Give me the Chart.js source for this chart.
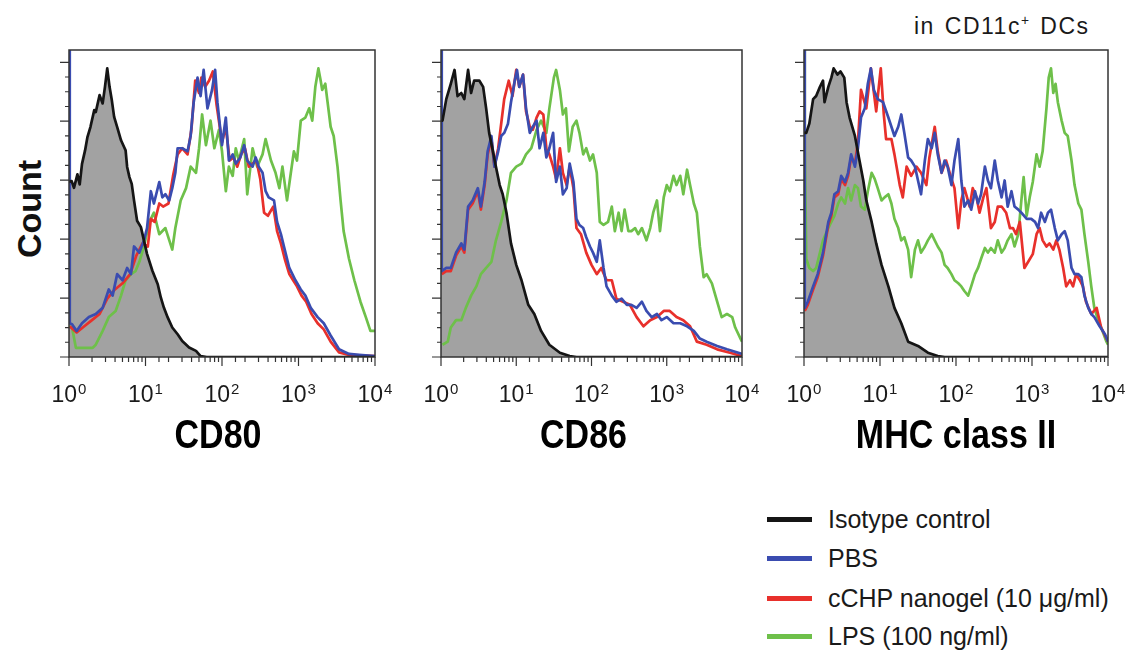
<!DOCTYPE html>
<html lang="en">
<head>
<meta charset="UTF-8">
<script src="https://cdn.jsdelivr.net/npm/chart.js"></script>
<title>CD80 / CD86 / MHC class II</title>
<style>
  body { margin: 0; width: 1126px; height: 650px; background: #fff; position: relative; overflow: hidden;
         font-family: 'Liberation Sans', Arial, sans-serif; color: #111; }
  .panel { position: absolute; top: 30px; }
  #tag { position: absolute; left: 914px; top: 13px; font-size: 23px; letter-spacing: 1.5px; word-spacing: 2px; white-space: nowrap; color: #1a1a1a; }
  #tag sup { font-size: 60%; }
  #count { position: absolute; left: 29px; top: 209px; transform: translate(-50%, -50%) rotate(-90deg);
           font-size: 34px; font-weight: bold; white-space: nowrap; }
  .row { position: absolute; left: 767px; height: 30px; line-height: 30px; font-size: 25px; white-space: nowrap; color: #1a1a1a; }
  .row span { display: inline-block; width: 45px; height: 5px; vertical-align: middle; margin-right: 16px; position: relative; top: -2px; }
</style>
</head>
<body>

<div id="tag">in CD11c<sup>+</sup> DCs</div>
<div id="count">Count</div>

<div class="panel" style="left:44px"><canvas id="c1" width="356" height="427"></canvas></div>
<div class="panel" style="left:416px"><canvas id="c2" width="351" height="427"></canvas></div>
<div class="panel" style="left:779px"><canvas id="c3" width="347" height="427"></canvas></div>

<div id="legend"></div>

<script>
// x values are log10 of the fluorescence channel (0 = 10^0 ... 4 = 10^4), y is % of max count
const cd80Iso = [[0,57],[0.035,57.3],[0.065,55.1],[0.11,59.5],[0.14,56.2],[0.17,62.9],[0.21,67.3],[0.24,71.5],[0.28,74.9],[0.33,80.4],[0.35,79.8],[0.38,83.1],[0.4,85.3],[0.44,82.6],[0.47,88],[0.5,94],[0.53,88],[0.56,83.6],[0.59,78.2],[0.63,74.9],[0.68,70.6],[0.72,68.4],[0.74,67.3],[0.76,61.9],[0.79,58.6],[0.82,56.4],[0.85,51],[0.89,44.4],[0.94,42.3],[0.98,37.9],[1.02,33.6],[1.09,28.1],[1.16,23.7],[1.2,19.4],[1.24,16.1],[1.29,12.9],[1.35,9.6],[1.42,7.4],[1.48,5.2],[1.57,3.1],[1.66,2],[1.72,0.3],[1.8,0],[4,0]];
const cd80Pbs = [[0,100],[0.01,11],[0.04,10.7],[0.1,8.5],[0.17,11],[0.26,13],[0.35,14],[0.44,16],[0.52,22],[0.57,20],[0.63,27],[0.7,25],[0.76,29],[0.81,27],[0.85,36],[0.92,34],[0.98,38],[1.02,42],[1.07,54],[1.11,50],[1.18,57],[1.22,52],[1.26,53],[1.31,51],[1.35,55],[1.39,60],[1.42,68],[1.48,68],[1.55,67],[1.59,72],[1.63,83],[1.68,91],[1.72,85],[1.76,93.5],[1.81,81],[1.87,87],[1.91,93.5],[1.94,83],[2.0,69],[2.05,78],[2.09,64],[2.14,66],[2.18,63],[2.24,65],[2.29,69],[2.33,64],[2.4,62],[2.44,65],[2.48,62],[2.53,60],[2.57,54],[2.61,52],[2.68,51],[2.72,44],[2.77,40],[2.81,36],[2.88,29],[2.92,27],[2.96,25],[3.03,22],[3.09,20],[3.16,16],[3.25,13],[3.33,11],[3.42,7],[3.53,2.5],[3.66,1],[3.79,0.7],[4,0.3]];
const cd80Chp = [[0.01,10],[0.1,8],[0.2,10],[0.3,12],[0.4,14],[0.5,19],[0.6,22],[0.7,24],[0.8,27],[0.88,33],[0.96,37],[1.03,36],[1.07,45],[1.12,44],[1.18,50],[1.23,49],[1.3,50],[1.36,59],[1.42,66],[1.48,68],[1.55,66],[1.6,74],[1.65,90],[1.7,86],[1.73,91],[1.78,88],[1.83,90],[1.88,93],[1.93,82],[2.0,70],[2.05,75],[2.1,64],[2.15,65],[2.2,62],[2.25,66],[2.3,68],[2.35,62],[2.4,63],[2.45,64],[2.5,58],[2.55,47],[2.6,46],[2.67,49],[2.72,41],[2.77,37],[2.82,32],[2.88,27],[2.93,25],[2.98,23],[3.04,20],[3.1,18],[3.17,14],[3.25,11],[3.33,9],[3.42,5],[3.53,1.5],[3.66,0.7],[3.8,0.5],[4,0.3]];
const cd80Lps = [[0,10],[0.04,9.6],[0.09,3],[0.2,3],[0.31,3],[0.35,4],[0.44,8.5],[0.52,13],[0.61,15],[0.68,20],[0.74,25],[0.81,27],[0.87,28],[0.92,31],[0.98,36],[1.05,44],[1.11,47],[1.18,40],[1.26,42],[1.35,35],[1.39,42],[1.46,51],[1.53,55],[1.59,62],[1.66,60],[1.7,68],[1.74,79],[1.79,69],[1.85,77],[1.9,68],[1.96,74],[2.0,67],[2.05,54],[2.09,62],[2.14,59],[2.18,68],[2.22,64],[2.29,71],[2.33,53],[2.4,68],[2.46,62],[2.53,66],[2.57,71],[2.64,64],[2.7,60],[2.75,55],[2.79,62],[2.85,51],[2.9,60],[2.94,67],[2.98,64],[3.03,77],[3.09,78],[3.14,81],[3.18,77],[3.22,88],[3.26,94],[3.29,90],[3.31,87],[3.35,89],[3.38,83],[3.42,75],[3.46,72],[3.51,62],[3.55,51],[3.59,41],[3.66,32],[3.73,25],[3.81,18],[3.88,13],[3.94,8.5],[4,8.5]];

const cd86Iso = [[0,77],[0.02,77],[0.07,84],[0.13,89],[0.18,93.5],[0.22,85],[0.27,86],[0.31,84],[0.36,93.5],[0.4,86],[0.44,90],[0.51,90],[0.56,88],[0.6,81],[0.64,73],[0.69,67],[0.73,62],[0.78,56],[0.82,53],[0.87,47],[0.93,37],[1.0,30],[1.07,25],[1.16,17],[1.24,14],[1.33,8.5],[1.44,4],[1.58,1.4],[1.71,0.3],[1.8,0],[4,0]];
const cd86Pbs = [[0,100],[0.01,28],[0.07,29],[0.13,29],[0.2,34],[0.27,37],[0.31,35],[0.36,49],[0.42,51],[0.49,55],[0.53,49],[0.58,57],[0.62,67],[0.67,72],[0.71,62],[0.76,67],[0.8,72],[0.84,73],[0.89,76],[0.93,83],[0.98,90],[1.01,93.5],[1.04,88],[1.09,92],[1.13,81],[1.18,73],[1.22,75],[1.27,77],[1.31,68],[1.36,73],[1.4,65],[1.44,68],[1.49,73],[1.53,57],[1.58,62],[1.62,53],[1.67,55],[1.71,63],[1.76,57],[1.8,45],[1.84,43],[1.89,42],[1.93,39],[1.98,36],[2.02,34],[2.07,31],[2.11,38],[2.16,29],[2.2,23],[2.27,20],[2.33,18],[2.4,19],[2.47,17],[2.53,17],[2.6,16],[2.67,18],[2.73,15],[2.8,13],[2.87,14],[2.93,12],[3.0,13],[3.09,11],[3.18,11],[3.27,10],[3.36,8.5],[3.44,6],[3.53,5],[3.67,3.6],[3.8,2.5],[4,1]];
const cd86Chp = [[0.01,27],[0.07,28],[0.13,28],[0.2,33],[0.27,36],[0.31,34],[0.36,48],[0.42,50],[0.49,54],[0.53,48],[0.58,56],[0.62,66],[0.67,71],[0.71,62],[0.76,68],[0.84,84],[0.9,90],[0.95,85],[1.0,93.5],[1.04,88],[1.09,92],[1.13,80],[1.18,75],[1.22,74],[1.27,78],[1.31,80],[1.36,79],[1.4,68],[1.44,66],[1.49,62],[1.53,58],[1.58,68],[1.62,60],[1.67,56],[1.71,62],[1.76,55],[1.8,42],[1.86,40],[1.93,34],[2.0,30],[2.07,27],[2.13,29],[2.2,25],[2.27,25],[2.33,19],[2.42,18],[2.51,17],[2.6,13],[2.69,10],[2.78,12],[2.87,13],[2.96,15],[3.04,15],[3.13,13],[3.22,12],[3.31,10],[3.4,5],[3.53,4],[3.67,2.5],[3.84,1.4],[4,0.3]];
const cd86Lps = [[0.02,4],[0.09,5],[0.13,9.6],[0.2,12],[0.27,12],[0.33,16],[0.4,20],[0.47,23],[0.53,27],[0.6,29],[0.67,31],[0.73,38],[0.8,44],[0.87,51],[0.93,60],[1.0,62],[1.07,63],[1.13,66],[1.2,68],[1.27,74],[1.33,77],[1.4,73],[1.44,81],[1.5,91],[1.53,93.5],[1.58,87],[1.62,79],[1.66,81],[1.7,67],[1.75,75],[1.8,77],[1.84,73],[1.89,66],[1.93,68],[1.98,64],[2.02,66],[2.07,60],[2.11,44],[2.16,43],[2.22,44],[2.27,49],[2.31,41],[2.36,47],[2.4,41],[2.44,48],[2.49,41],[2.53,41],[2.58,42],[2.62,40],[2.67,42],[2.73,38],[2.78,42],[2.82,47],[2.87,51],[2.91,41],[2.96,52],[3.0,56],[3.04,54],[3.09,59],[3.13,56],[3.18,59],[3.22,53],[3.27,61],[3.31,56],[3.36,50],[3.4,47],[3.44,36],[3.49,26],[3.53,27],[3.6,24],[3.67,18],[3.73,13],[3.8,14],[3.87,13],[3.91,9.6],[3.98,6],[4,5]];

const mhcIso = [[0,73],[0.03,73],[0.07,76],[0.12,84],[0.16,85],[0.21,88],[0.25,90],[0.27,83],[0.32,88],[0.36,91],[0.39,94],[0.44,92],[0.48,93],[0.53,91],[0.56,83],[0.6,78],[0.67,72],[0.73,64],[0.78,57.5],[0.82,51],[0.89,44],[0.95,37],[1.02,30],[1.11,23],[1.19,16],[1.28,11],[1.37,5],[1.5,3.6],[1.63,1.4],[1.76,0.3],[1.85,0],[4,0]];
const mhcPbs = [[0,100],[0.01,16],[0.05,18],[0.12,23],[0.18,27],[0.25,34],[0.32,44],[0.36,47],[0.4,53],[0.45,54],[0.49,59],[0.54,57],[0.58,60],[0.62,66],[0.67,62],[0.71,68],[0.75,78],[0.8,81],[0.84,89],[0.88,94],[0.92,87],[0.97,84],[1.04,83],[1.11,78],[1.15,75],[1.19,72],[1.24,75],[1.28,79],[1.32,73],[1.37,65],[1.41,64],[1.46,62],[1.5,57.5],[1.54,53],[1.59,64],[1.63,71],[1.68,68],[1.72,73],[1.76,66],[1.81,60],[1.85,64],[1.89,62],[1.94,56],[1.98,64],[2.03,71],[2.07,57.5],[2.11,49],[2.16,51],[2.2,48],[2.25,54],[2.29,50],[2.33,53],[2.38,62],[2.42,57.5],[2.46,55],[2.51,64],[2.55,57.5],[2.6,52],[2.64,57.5],[2.68,49],[2.73,54],[2.77,49],[2.82,48],[2.86,47],[2.93,45],[2.99,45],[3.04,44],[3.08,42],[3.12,47],[3.17,44],[3.21,47],[3.25,48],[3.3,42],[3.34,38],[3.39,40],[3.43,41],[3.47,38],[3.52,29],[3.56,27],[3.61,27],[3.65,26],[3.69,20],[3.74,16],[3.78,14],[3.82,13],[3.89,10],[3.96,7.4],[4,5]];
const mhcChp = [[0.01,15],[0.05,17],[0.12,22],[0.18,26],[0.25,33],[0.32,43],[0.36,46],[0.4,52],[0.45,53],[0.49,58],[0.54,56],[0.58,59],[0.62,65],[0.67,63],[0.71,70],[0.75,87],[0.82,81],[0.88,94],[0.95,80],[1.01,94],[1.05,79],[1.08,71],[1.15,71],[1.19,66],[1.26,56],[1.3,52],[1.35,62],[1.41,59],[1.48,62],[1.54,60],[1.61,56],[1.65,65],[1.72,75],[1.76,67],[1.81,60],[1.87,64],[1.94,58],[1.98,55],[2.03,42],[2.07,51],[2.11,55],[2.18,49],[2.22,55],[2.27,52],[2.31,47],[2.36,52],[2.4,55],[2.46,42],[2.51,44],[2.55,49],[2.6,49],[2.66,47],[2.71,42],[2.75,42],[2.79,40],[2.84,44],[2.9,29],[2.95,31],[3.01,33.5],[3.06,40],[3.1,42],[3.14,38],[3.19,36],[3.23,37],[3.28,35],[3.32,38],[3.36,35],[3.41,29],[3.45,23],[3.5,25],[3.54,23],[3.58,27],[3.63,25],[3.67,23],[3.71,18],[3.78,14],[3.85,16],[3.91,9.6],[4,5]];
const mhcLps = [[0,100],[0.01,70],[0.03,32],[0.07,29],[0.12,28],[0.16,29],[0.21,34],[0.25,38],[0.32,42],[0.36,44],[0.4,46],[0.45,50],[0.49,52],[0.54,50],[0.58,55],[0.62,51],[0.67,56],[0.71,55],[0.75,49],[0.8,48],[0.84,54],[0.89,60],[0.93,58],[0.97,55],[1.02,51],[1.06,52],[1.11,53],[1.15,50],[1.19,45],[1.24,42],[1.28,38],[1.32,39],[1.37,35],[1.41,26],[1.46,35],[1.5,38],[1.54,34],[1.59,36],[1.63,38],[1.68,40],[1.72,38],[1.76,36],[1.81,34],[1.85,30],[1.89,29],[1.94,27],[1.98,25],[2.03,24],[2.07,23],[2.11,21.5],[2.16,20],[2.2,23],[2.25,27],[2.29,29],[2.33,32],[2.38,35.5],[2.42,34],[2.46,35.5],[2.51,34],[2.55,38],[2.6,34],[2.64,35.5],[2.68,38],[2.73,40],[2.77,36],[2.82,40],[2.86,51],[2.89,58.6],[2.93,46],[2.97,52],[3.01,57],[3.06,66],[3.1,62],[3.14,67],[3.19,81],[3.22,91],[3.25,94],[3.28,86],[3.31,89],[3.34,83],[3.39,77],[3.43,73],[3.47,72],[3.52,64],[3.56,56],[3.61,50],[3.65,48],[3.69,40],[3.74,31],[3.78,23],[3.82,16],[3.87,12],[3.91,9.6],[3.98,5],[4,4]];

const panelTitles = ['CD80', 'CD86', 'MHC class II'];
const tickExponents = ['0', '1', '2', '3', '4'];
const seriesNames = ['Isotype control', 'PBS', 'cCHP nanogel (10 \u03bcg/ml)', 'LPS (100 ng/ml)'];

const colors = ['#151515', '#3a4cb0', '#e8302b', '#6ec04a'];
const isoFill = '#a2a2a2';
const yTickStep = 4.8;
const textFamily = "'Liberation Sans', Arial, sans-serif";

function toXY(arr) {
    return arr.map(function (p) { return { x: Math.pow(10, p[0]), y: p[1] }; });
}

function isDecade(v) {
    const e = Math.log10(v);
    return Math.abs(e - Math.round(e)) < 1e-6;
}

// frame, outward tick marks, 10^n labels and the condensed bold axis title
const frameTicks = {
    id: 'frameTicks',
    afterDatasetsDraw(chart, args, opts) {
        const ctx = chart.ctx;
        const a = chart.chartArea;
        const x = chart.scales.x, y = chart.scales.y;
        ctx.save();
        ctx.strokeStyle = '#333';
        ctx.lineWidth = 1.5;
        ctx.strokeRect(a.left, a.top, a.right - a.left, a.bottom - a.top);
        ctx.lineWidth = 1.2;
        ctx.beginPath();
        x.ticks.forEach(function (t) {
            const px = x.getPixelForValue(t.value);
            ctx.moveTo(px, a.bottom);
            ctx.lineTo(px, a.bottom + (isDecade(t.value) ? 9 : 5));
        });
        for (let k = 0; k * yTickStep <= 100; k++) {
            const py = y.getPixelForValue(k * yTickStep);
            ctx.moveTo(a.left, py);
            ctx.lineTo(a.left - (k % 4 === 0 ? 9 : 4), py);
        }
        ctx.stroke();

        ctx.fillStyle = '#1a1a1a';
        ctx.textBaseline = 'alphabetic';
        ctx.textAlign = 'left';
        x.ticks.forEach(function (t) {
            if (!isDecade(t.value)) return;
            const exp = tickExponents[Math.round(Math.log10(t.value))];
            ctx.font = '23px ' + textFamily;
            const w1 = ctx.measureText('10').width;
            ctx.font = '15px ' + textFamily;
            const w2 = ctx.measureText(exp).width;
            const left = x.getPixelForValue(t.value) - (w1 + w2 + 1) / 2;
            const base = a.bottom + 45;
            ctx.font = '23px ' + textFamily;
            ctx.fillText('10', left, base);
            ctx.font = '15px ' + textFamily;
            ctx.fillText(exp, left + w1 + 1, base - 8);
        });

        ctx.fillStyle = '#000';
        ctx.textAlign = 'center';
        ctx.font = 'bold 40px ' + textFamily;
        ctx.translate((a.left + a.right) / 2 + opts.shift, a.bottom + 91);
        ctx.scale(0.85, 1);
        ctx.fillText(opts.title, 0, 0);
        ctx.restore();
    }
};

function drawPanel(id, title, shift, iso, pbs, chp, lps, padRight) {
    const datasets = [
        { label: seriesNames[0], data: toXY(iso), borderColor: colors[0], backgroundColor: isoFill, fill: 'origin', order: 0 },
        { label: seriesNames[1], data: toXY(pbs), borderColor: colors[1], fill: false, order: 1 },
        { label: seriesNames[2], data: toXY(chp), borderColor: colors[2], fill: false, order: 2 },
        { label: seriesNames[3], data: toXY(lps), borderColor: colors[3], fill: false, order: 3 }
    ];
    const ctx = document.getElementById(id).getContext('2d');
    return new Chart(ctx, {
        type: 'line',
        data: { datasets: datasets },
        options: {
            responsive: false,
            animation: false,
            layout: { padding: { left: 25, right: padRight, top: 20, bottom: 0 } },
            plugins: {
                legend: { display: false },
                tooltip: { enabled: false },
                filler: { drawTime: 'beforeDatasetsDraw' },
                frameTicks: { title: title, shift: shift }
            },
            elements: {
                point: { radius: 0 },
                line: { tension: 0, borderWidth: 2.7, borderJoinStyle: 'round' }
            },
            scales: {
                x: {
                    type: 'logarithmic',
                    min: 1,
                    max: 10000,
                    grid: { display: false, drawTicks: false },
                    border: { display: false },
                    ticks: { display: false, autoSkip: false },
                    afterFit: function (s) { s.height = 100; s.paddingLeft = 0; s.paddingRight = 0; }
                },
                y: { display: false, min: 0, max: 100 }
            }
        },
        plugins: [frameTicks]
    });
}

drawPanel('c1', panelTitles[0], -4, cd80Iso, cd80Pbs, cd80Chp, cd80Lps, 25);
drawPanel('c2', panelTitles[1], -8, cd86Iso, cd86Pbs, cd86Chp, cd86Lps, 25);
drawPanel('c3', panelTitles[2], 0, mhcIso, mhcPbs, mhcChp, mhcLps, 18);

// legend
const legendTops = [504, 543, 583, 621];
const legend = document.getElementById('legend');
seriesNames.forEach(function (name, i) {
    const row = document.createElement('div');
    row.className = 'row';
    row.style.top = legendTops[i] + 'px';
    row.innerHTML = '<span style="background:' + colors[i] + '"></span>' + name;
    legend.appendChild(row);
});
</script>
</body>
</html>
